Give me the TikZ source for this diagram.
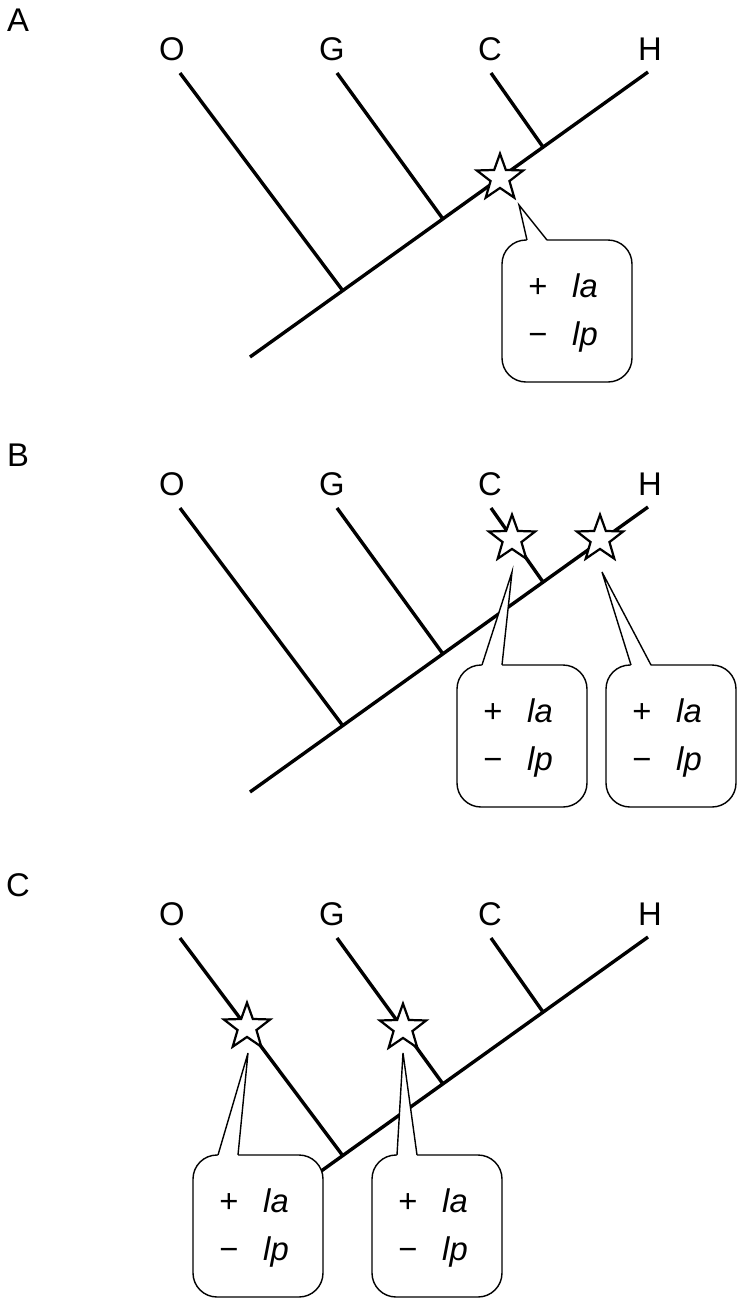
\documentclass[tikz,border=0pt]{standalone}
\usepackage{fontspec}
\setmainfont{Liberation Sans}
\usepackage{tikz}
\usetikzlibrary{shapes.geometric}
\definecolor{Ink}{RGB}{0, 0, 0}

\tikzset{
  branch/.style={draw=Ink, line width=2.9pt},
  mutation/.style={star, star points=5, star point ratio=2.45, minimum size=1.46cm,
    inner sep=0pt, draw=Ink, line width=1.9pt, fill=white},
  bubble/.style={draw=Ink, fill=white, line width=1.2pt, rounded corners=0.72cm},
  pointer/.style={draw=Ink, line width=1.2pt, line join=miter},
  taxon/.style={font=\fontsize{28}{33}\selectfont, inner sep=0pt},
  sign/.style={font=\fontsize{28}{33}\selectfont, anchor=base, inner sep=0pt},
  gene/.style={font=\fontsize{28}{33}\selectfont\itshape, anchor=base west, inner sep=0pt},
}

% #1 name, (#2,#3) star, (#4,#5) tip, (#6,#7) top left of the box
\newcommand{\callout}[7]{%
  \node[mutation] (#1) at (#2,#3) {};
  \coordinate (#1-tip) at (#4,#5);
  \coordinate (#1-bl) at (#6+25,#7);
  \coordinate (#1-br) at (#6+45,#7);
  \draw[bubble] (#6,#7) rectangle (#6+130,#7+142);
  \fill[white] ([yshift=-0.9pt]#1-bl) -- (#1-tip) -- ([yshift=-0.9pt]#1-br) -- cycle;
  \draw[pointer] (#1-bl) -- (#1-tip) -- (#1-br);
  \node[sign] (#1-plus) at (#6+36,#7+57) {+};
  \node[gene] (#1-la) at (#6+70,#7+57) {la};
  \node[sign] (#1-minus) at (#6+36,#7+105) {−};
  \node[gene] (#1-lp) at (#6+70,#7+105) {lp};
}

\begin{document}
\begin{tikzpicture}[x=0.03cm, y=-0.03cm]
    %%Background
    \useasboundingbox (0,0) rectangle (743,1305);

    %% Trees
    \foreach \p/\dy in {A/0, B/435, C/865}{
      \begin{scope}[shift={(0,\dy)}]
        \node[taxon] (\p) at (18,20) {\p};
        \node[taxon] (\p-O) at (172,49) {O};
        \node[taxon] (\p-G) at (332,49) {G};
        \node[taxon] (\p-C) at (490,49) {C};
        \node[taxon] (\p-H) at (650,49) {H};

        \coordinate (\p-root) at (250,357);
        \coordinate (\p-jO) at (343,291);
        \coordinate (\p-jG) at (443,219);
        \coordinate (\p-jC) at (543,147);
        \coordinate (\p-tO) at (180,73);
        \coordinate (\p-tG) at (337,73);
        \coordinate (\p-tC) at (491,73);
        \coordinate (\p-tH) at (648,72);

        \draw[branch]
        (\p-root) -- (\p-tH)
        (\p-jO) -- (\p-tO)
        (\p-jG) -- (\p-tG)
        (\p-jC) -- (\p-tC)
        ;
      \end{scope}
    }

    %% (A)
    \callout{mA}{500}{178}{519}{205}{502}{240}

    %% (B)
    \callout{mBC}{512}{539}{512}{572}{457}{665}
    \callout{mBH}{600}{539}{602}{572}{606}{665}

    %% (C)
    \callout{mCO}{247}{1027}{248}{1053}{193}{1155}
    \callout{mCG}{403}{1028}{403}{1053}{372}{1155}

\end{tikzpicture}
\end{document}
